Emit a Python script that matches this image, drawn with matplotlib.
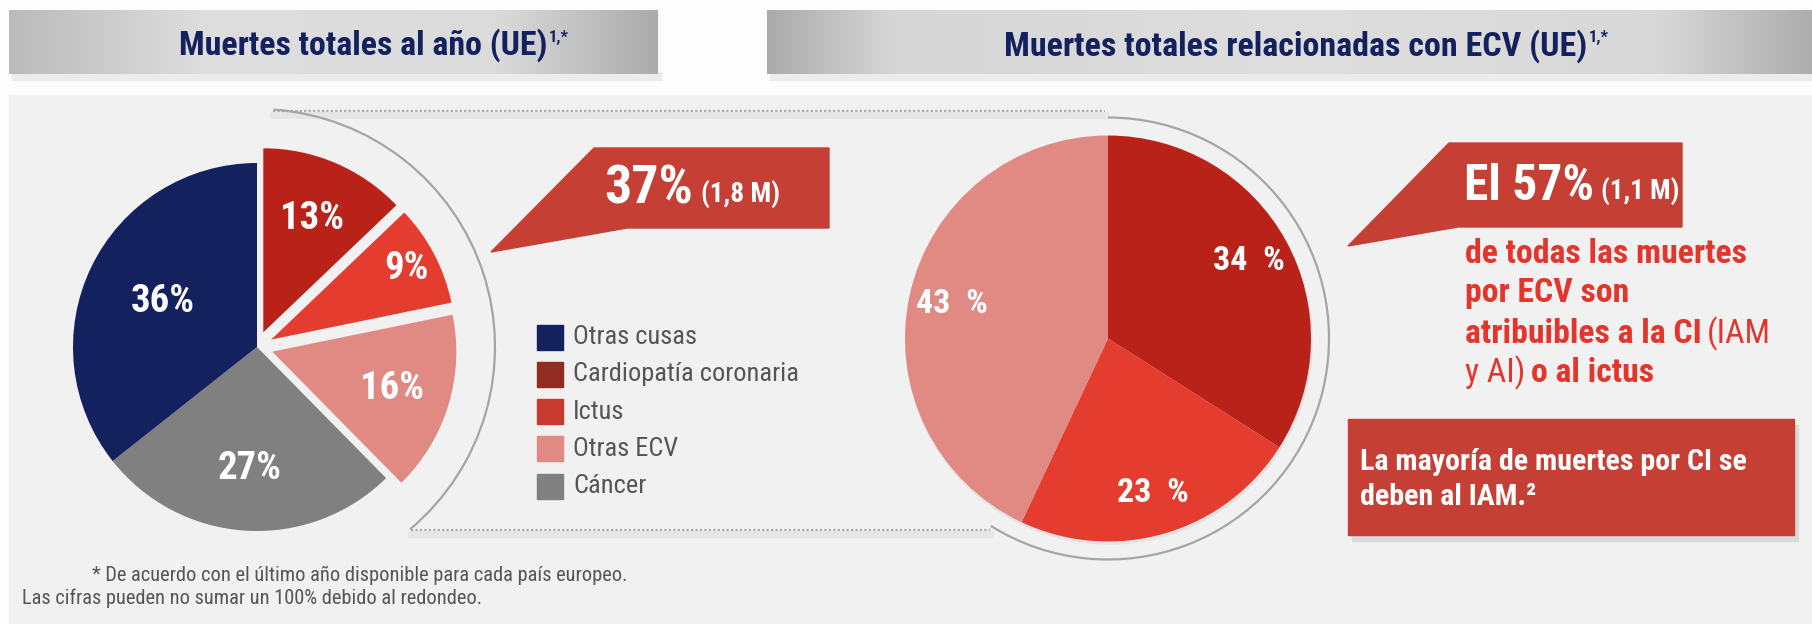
import numpy as np
from matplotlib import pyplot as plt
from matplotlib import font_manager
from matplotlib.patches import Rectangle, Polygon, Arc, Circle

W, H = 1812, 624

LEFT_TITLE = 'Muertes totales al año (UE)'
RIGHT_TITLE = 'Muertes totales relacionadas con ECV (UE)'
TITLE_SUP = '1,*'

CAUSES = ['Otras cusas', 'Cardiopatía coronaria', 'Ictus', 'Otras ECV', 'Cáncer']
CAUSE_SHARE = [36, 13, 9, 16, 27]

CVD_SHARE_TOTAL = '37%'
CVD_DEATHS = '(1,8 M)'

CVD_CAUSES = ['Cardiopatía coronaria', 'Ictus', 'Otras ECV']
CVD_SHARE = [34, 23, 43]

CI_ICTUS_SHARE = 'El 57%'
CI_ICTUS_DEATHS = '(1,1 M)'

NOTE_LINES = ['de todas las muertes', 'por ECV son']
NOTE_LINE3 = ('atribuibles a la CI', '(IAM')
NOTE_LINE4 = ('y AI)', 'o al ictus')
BOX_LINES = ['La mayoría de muertes por CI se', 'deben al IAM.²']
FOOTNOTES = ['* De acuerdo con el último año disponible para cada país europeo.',
             'Las cifras pueden no sumar un 100% debido al redondeo.']

NAVY = '#13215f'
RED_BOX = '#c63f35'
RED_TEXT = '#e3352b'
GREY_TEXT = '#555555'
CAUSE_COLORS = ['#13215f', '#b82218', '#e53c30', '#e08a83', '#808080']
LEGEND_COLORS = ['#13215f', '#922b22', '#c8392f', '#e08a83', '#808080']
CVD_COLORS = ['#b82218', '#e53c30', '#e08a83']


def pick_font():
    # the original uses a condensed sans; take the narrowest one we can find
    fl = font_manager.fontManager.ttflist
    names = {f.name for f in fl}
    for n in ['Liberation Sans Narrow', 'Roboto Condensed', 'Noto Sans Condensed',
              'DejaVu Sans Condensed', 'Open Sans Condensed', 'Arial Narrow']:
        if n in names:
            return n, 'normal'
    for f in fl:
        if ('Narrow' in f.name or 'Condensed' in f.name) and not any(
                k in f.name for k in ('CJK', 'Mono', 'Serif')):
            return f.name, 'normal'
    narrow = ('condensed', 'semi-condensed', 'extra-condensed', 'ultra-condensed')
    for n in ['Noto Sans', 'Roboto', 'Open Sans', 'DejaVu Sans']:
        for f in fl:
            if f.name == n and (f.stretch in narrow or
                                (isinstance(f.stretch, int) and f.stretch < 500)):
                return n, 'condensed'
    return 'Roboto', 'normal'


FONT, STRETCH = pick_font()
plt.rcParams['font.family'] = [FONT, 'DejaVu Sans']
plt.rcParams['font.stretch'] = STRETCH


def Y(y):
    # layout measured from the top of the picture
    return H - y


fig = plt.figure(figsize=(W / 100, H / 100), dpi=100)
fig.patch.set_facecolor('#fdfdfd')
ax = fig.add_axes([0, 0, 1, 1])
renderer = fig.canvas.get_renderer()


def fit(texts, width):
    # scale a group of texts so that the first one spans `width` pixels
    bb = texts[0].get_window_extent(renderer)
    size = texts[0].get_fontsize() * width / bb.width
    for t in texts:
        t.set_fontsize(size)
    return size


# background panel
ax.add_patch(Rectangle((9, 0), W - 9, Y(95), color='#f1f1f1', zorder=0))


def title_bar(x0, x1, stops):
    xs = np.linspace(0, 1, 400)
    g = np.interp(xs, [p for p, _ in stops], [v for _, v in stops])
    img = np.dstack([g, g, g])
    ax.add_patch(Rectangle((x0 + 3, Y(80)), x1 - x0, 8, color='#ececec', zorder=0.5))
    ax.imshow(img, extent=[x0, x1, Y(74), Y(10)], aspect='auto', zorder=1)


title_bar(9, 658, [(0, 0.73), (0.3, 0.87), (0.75, 0.86), (1, 0.67)])
title_bar(767, W, [(0, 0.67), (0.12, 0.84), (0.5, 0.87), (0.85, 0.85), (1, 0.68)])

t1 = ax.text(179, Y(55), LEFT_TITLE, color=NAVY, fontsize=26, fontweight='bold',
             va='baseline', zorder=3)
t2 = ax.text(1004, Y(56), RIGHT_TITLE, color=NAVY, fontsize=26, fontweight='bold',
             va='baseline', zorder=3)
fit([t1], 369)
fit([t2], 584)
for t in (t1, t2):
    ax.annotate(TITLE_SUP, xy=(1, Y(42)), xycoords=(t, 'data'), xytext=(1, 0),
                textcoords='offset points', color=NAVY, fontsize=12,
                fontweight='bold', va='baseline', zorder=3)

# dotted guide lines and arcs
for x0, x1, y in [(273, 1105, 111), (411, 990, 530)]:
    ax.plot([x0, x1], [Y(y + 4), Y(y + 4)], color='#e6e6e6', lw=5, zorder=1)
    ax.plot([x0, x1], [Y(y), Y(y)], color='#aaaaaa', lw=1.6,
            linestyle=(0, (1, 1)), zorder=2)

ax.add_patch(Arc((257, Y(347)), 476, 476, theta1=-50, theta2=86,
                 color='#a5a5a5', lw=1.6, zorder=2))
ax.add_patch(Arc((1108, Y(338.5)), 442, 442, theta1=-122, theta2=90,
                 color='#a5a5a5', lw=1.6, zorder=2))

# left pie (clockwise from 12 o'clock, starting with coronary heart disease)
pie_order = [1, 2, 3, 4, 0]
explode = [16, 16, 16, 0, 0]
label_r = [0.67, 0.83, 0.68, 0.66, 0.57]
wedges, _ = ax.pie([CAUSE_SHARE[i] for i in pie_order],
                   colors=[CAUSE_COLORS[i] for i in pie_order],
                   startangle=90, counterclock=False, explode=explode,
                   center=(257, Y(347)), radius=184,
                   wedgeprops=dict(linewidth=0))
left_labels = []
for w, i, r in zip(wedges, pie_order, label_r):
    w.set_zorder(3)
    a = np.deg2rad((w.theta1 + w.theta2) / 2)
    cx, cy = w.center
    left_labels.append(ax.text(cx + r * w.r * np.cos(a), cy + r * w.r * np.sin(a),
                               f'{CAUSE_SHARE[i]}%', color='white', fontsize=29,
                               fontweight='bold', ha='center', va='center', zorder=4))
fit(left_labels, 64)

# legend
legend_texts = []
for k, (name, col) in enumerate(zip(CAUSES, LEGEND_COLORS)):
    yc = 337 + k * 37.3
    ax.add_patch(Rectangle((537, Y(yc + 12.5)), 26, 25, color=col, zorder=3))
    legend_texts.append(ax.text(573, Y(yc), name, color=GREY_TEXT, fontsize=20,
                                va='center', zorder=3))
fit(legend_texts[1:] + legend_texts[:1], 224)

# left callout
ax.add_patch(Polygon([(594, Y(148)), (829, Y(148)), (829, Y(228)), (627, Y(228)),
                      (491, Y(252))], closed=True, color=RED_BOX, zorder=3))
c1 = ax.text(604, Y(203), CVD_SHARE_TOTAL, color='white', fontsize=39,
             fontweight='bold', va='baseline', zorder=4)
fit([c1], 89)
c1b = ax.annotate(CVD_DEATHS, xy=(1, Y(203)), xycoords=(c1, 'data'), xytext=(6, 0),
                  textcoords='offset points', color='white', fontsize=21,
                  fontweight='bold', va='baseline', zorder=4)
fit([c1b], 79)

# right pie, with a soft shadow underneath
ax.add_patch(Circle((1109, Y(341)), 203, color='#e3e3e3', zorder=2))
wedges, _ = ax.pie(CVD_SHARE, colors=CVD_COLORS, startangle=90, counterclock=False,
                   center=(1108, Y(338.5)), radius=203,
                   wedgeprops=dict(linewidth=0))
right_labels = []
for w, v in zip(wedges, CVD_SHARE):
    w.set_zorder(3)
    a = np.deg2rad((w.theta1 + w.theta2) / 2)
    cx, cy = w.center
    right_labels.append(ax.text(cx + 0.79 * w.r * np.cos(a), cy + 0.79 * w.r * np.sin(a),
                                f'{v}  %', color='white', fontsize=24,
                                fontweight='bold', ha='center', va='center', zorder=4))
fit(right_labels, 72)

# right callout
ax.add_patch(Polygon([(1449, Y(143)), (1682, Y(143)), (1682, Y(227)), (1458, Y(227)),
                      (1348, Y(246))], closed=True, color=RED_BOX, zorder=3))
c2 = ax.text(1464, Y(200), CI_ICTUS_SHARE, color='white', fontsize=35,
             fontweight='bold', va='baseline', zorder=4)
fit([c2], 130)
c2b = ax.annotate(CI_ICTUS_DEATHS, xy=(1, Y(200)), xycoords=(c2, 'data'), xytext=(5, 0),
                  textcoords='offset points', color='white', fontsize=21,
                  fontweight='bold', va='baseline', zorder=4)
fit([c2b], 78)

note = []
for s, yb in zip(NOTE_LINES, [263, 302]):
    note.append(ax.text(1465, Y(yb), s, color=RED_TEXT, fontsize=24, fontweight='bold',
                        va='baseline', zorder=3))
n3 = ax.text(1465, Y(343), NOTE_LINE3[0], color=RED_TEXT, fontsize=24,
             fontweight='bold', va='baseline', zorder=3)
n3b = ax.annotate(NOTE_LINE3[1], xy=(1, Y(343)), xycoords=(n3, 'data'), xytext=(4, 0),
                  textcoords='offset points', color=RED_TEXT, fontsize=24,
                  va='baseline', zorder=3)
n4 = ax.text(1465, Y(382), NOTE_LINE4[0], color=RED_TEXT, fontsize=24,
             va='baseline', zorder=3)
n4b = ax.annotate(NOTE_LINE4[1], xy=(1, Y(382)), xycoords=(n4, 'data'), xytext=(4, 0),
                  textcoords='offset points', color=RED_TEXT, fontsize=24,
                  fontweight='bold', va='baseline', zorder=3)
fit(note + [n3, n3b, n4, n4b], 283)

# bottom right box
ax.add_patch(Rectangle((1352, Y(541)), 446, 116, color='#d9d9d9', zorder=2))
ax.add_patch(Rectangle((1348, Y(535)), 446, 116, color=RED_BOX, zorder=3))
box = []
for s, yb in zip(BOX_LINES, [470, 505]):
    box.append(ax.text(1360, Y(yb), s, color='white', fontsize=21, fontweight='bold',
                       va='baseline', zorder=4))
fit(box, 388)

# footnotes
foot = []
for s, x, yb in zip(FOOTNOTES, [92, 22], [581, 604]):
    foot.append(ax.text(x, Y(yb), s, color=GREY_TEXT, fontsize=15, va='baseline',
                        zorder=3))
fit(foot[1:] + foot[:1], 461)

ax.set_xlim(0, W)
ax.set_ylim(0, H)
ax.set_aspect('auto')
ax.axis('off')
fig.savefig('out.png', dpi=100, facecolor=fig.get_facecolor())
